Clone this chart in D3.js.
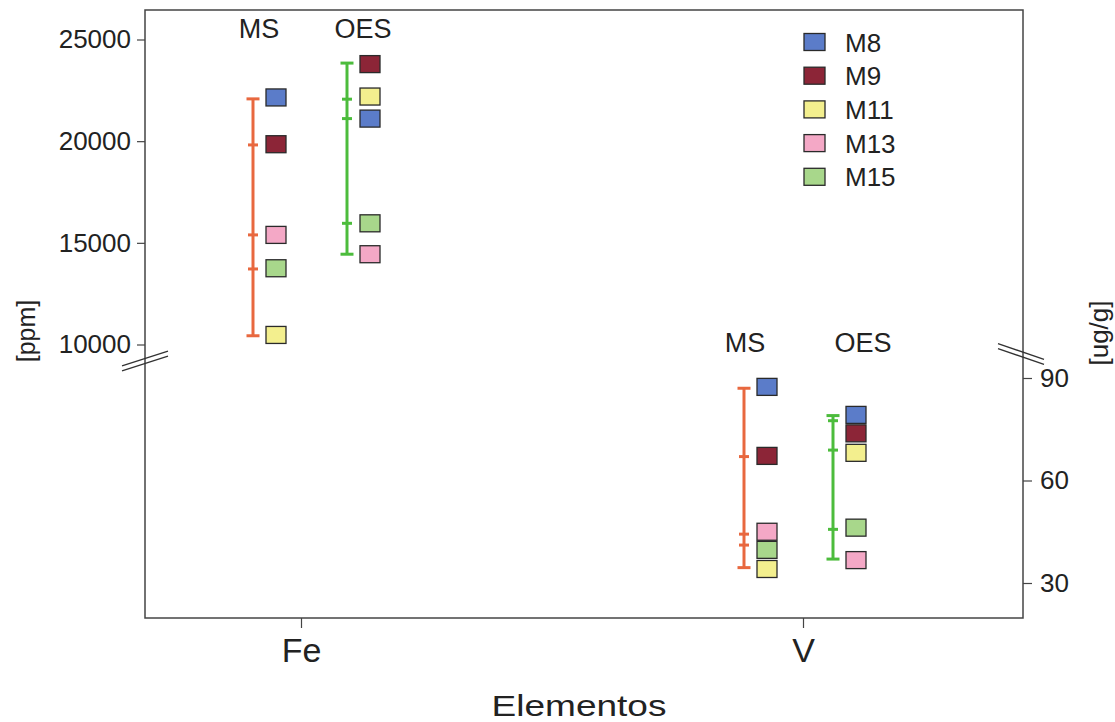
<!DOCTYPE html>
<html><head><meta charset="utf-8">
<script src="https://cdn.jsdelivr.net/npm/d3@7"></script>
<style>
body{margin:0;background:#fff;}
text{font-family:"Liberation Sans",Arial,sans-serif;fill:#222;}
</style></head>
<body><svg id="c" width="1115" height="722"></svg>
<script>
// ---------- data ----------
const elements = ["Fe", "V"];
const methods = ["MS", "OES"];
const samples = ["M8", "M9", "M11", "M13", "M15"];
const sampleColors = ["#5b7cc9", "#8c2537", "#f3ef8e", "#f4a8c6", "#a8d78b"];
const methodColors = ["#e8683f", "#4cbc3c"];
// sample values per element/method (order follows samples)
const feMS  = [22150, 19850, 10470, 15390, 13750];
const feOES = [21110, 23790, 22195, 14440, 15960];
const vMS   = [87.4, 67.2, 34.1, 45.0, 39.7];
const vOES  = [79.2, 73.8, 68.1, 36.7, 46.2];
// range-bar tick values
const feMSBar  = [22080, 19815, 15390, 13715, 10430];
const feOESBar = [23840, 22065, 21110, 15960, 14440];
const vMSBar   = [87.0, 67.0, 44.3, 41.1, 34.5];
const vOESBar  = [79.0, 77.5, 68.9, 45.7, 37.0];
const leftTicks = [10000, 15000, 20000, 25000];
const rightTicks = [30, 60, 90];

// ---------- layout ----------
const svg = d3.select("#c");
const L = 145, R = 1023, T = 10, B = 618;
const x = d3.scalePoint().domain(elements).range([301, 803]);
const yL = d3.scaleLinear().domain([10000, 25000]).range([344.5, 39.5]);
const yR = d3.scaleLinear().domain([30, 90]).range([583, 378]);
const axisCol = "#444";

// frame
svg.append("rect").attr("x", L).attr("y", T).attr("width", R - L).attr("height", B - T)
  .attr("fill", "none").attr("stroke", axisCol).attr("stroke-width", 1.5);

// left axis
const gl = svg.append("g").attr("transform", `translate(${L},0)`)
  .call(d3.axisLeft(yL).tickValues(leftTicks).tickFormat(d3.format("d")).tickSize(8).tickPadding(6));
gl.select(".domain").remove();
gl.selectAll("line").attr("stroke", axisCol).attr("stroke-width", 1.2);
gl.selectAll("text").style("font-size", "26px").attr("fill", "#222");

// right axis
const gr = svg.append("g").attr("transform", `translate(${R},0)`)
  .call(d3.axisRight(yR).tickValues(rightTicks).tickSize(9).tickPadding(8));
gr.select(".domain").remove();
gr.selectAll("line").attr("stroke", axisCol).attr("stroke-width", 1.2);
gr.selectAll("text").style("font-size", "26px").attr("fill", "#222");

// bottom axis
const gb = svg.append("g").attr("transform", `translate(0,${B})`)
  .call(d3.axisBottom(x).tickSize(10).tickPadding(10));
gb.select(".domain").remove();
gb.selectAll("line").attr("stroke", axisCol).attr("stroke-width", 1.2);
gb.selectAll("text").style("font-size", "34px").attr("fill", "#222");

// axis break marks
function breakMark(cx, cy, slope) {
  [-2.5, 2.5].forEach(o => {
    svg.append("line").attr("x1", cx - 23).attr("y1", cy + o - slope * 23)
      .attr("x2", cx + 23).attr("y2", cy + o + slope * 23)
      .attr("stroke", "#333").attr("stroke-width", 1.3);
  });
}
breakMark(L, 361, -0.32);
breakMark(R - 2, 354, 0.34);

// axis titles
svg.append("text").attr("transform", "translate(35,331) rotate(-90)")
  .attr("text-anchor", "middle").style("font-size", "25px").text("[ppm]");
svg.append("text").attr("transform", "translate(1108,333) rotate(-90)")
  .attr("text-anchor", "middle").style("font-size", "26px").text("[ug/g]");
svg.append("text").attr("x", 579).attr("y", 716).attr("text-anchor", "middle")
  .attr("textLength", 175).attr("lengthAdjust", "spacingAndGlyphs")
  .style("font-size", "30px").text("Elementos");

// ---------- groups ----------
const groups = [
  {el: "Fe", m: 0, vals: feMS,  bar: feMSBar,  y: yL, dx: -48, lab: -42, labY: 38},
  {el: "Fe", m: 1, vals: feOES, bar: feOESBar, y: yL, dx: 46,  lab: 62,  labY: 38},
  {el: "V",  m: 0, vals: vMS,   bar: vMSBar,   y: yR, dx: -59, lab: -58, labY: 352},
  {el: "V",  m: 1, vals: vOES,  bar: vOESBar,  y: yR, dx: 30,  lab: 60,  labY: 352}
];
const sqW = 20, sqH = 17, sqOff = 23;

groups.forEach(g => {
  const bx = x(g.el) + g.dx;
  const col = methodColors[g.m];
  const ext = d3.extent(g.bar);
  const gg = svg.append("g");
  gg.append("line").attr("x1", bx).attr("x2", bx)
    .attr("y1", g.y(ext[0])).attr("y2", g.y(ext[1]))
    .attr("stroke", col).attr("stroke-width", 3);
  gg.selectAll(".tk").data(g.bar).enter().append("line")
    .attr("x1", d => bx - ((d === ext[0] || d === ext[1]) ? 6.5 : 5))
    .attr("x2", d => bx + ((d === ext[0] || d === ext[1]) ? 6.5 : 5))
    .attr("y1", d => g.y(d)).attr("y2", d => g.y(d))
    .attr("stroke", col).attr("stroke-width", 3);
  gg.selectAll("rect").data(g.vals).enter().append("rect")
    .attr("x", bx + sqOff - sqW / 2).attr("y", d => g.y(d) - sqH / 2)
    .attr("width", sqW).attr("height", sqH)
    .attr("fill", (d, i) => sampleColors[i])
    .attr("stroke", "#2a2a2a").attr("stroke-width", 1.3);
  svg.append("text").attr("x", x(g.el) + g.lab).attr("y", g.labY)
    .attr("text-anchor", "middle").style("font-size", "27px").text(methods[g.m]);
});

// ---------- legend ----------
const lg = svg.append("g").attr("transform", "translate(804,42)");
samples.forEach((s, i) => {
  const row = lg.append("g").attr("transform", `translate(0,${i * 33.7})`);
  row.append("rect").attr("x", 0).attr("y", -sqH / 2).attr("width", 21).attr("height", sqH)
    .attr("fill", sampleColors[i]).attr("stroke", "#2a2a2a").attr("stroke-width", 1.3);
  row.append("text").attr("x", 41).attr("y", 9.5).style("font-size", "26px").text(s);
});
</script></body></html>
